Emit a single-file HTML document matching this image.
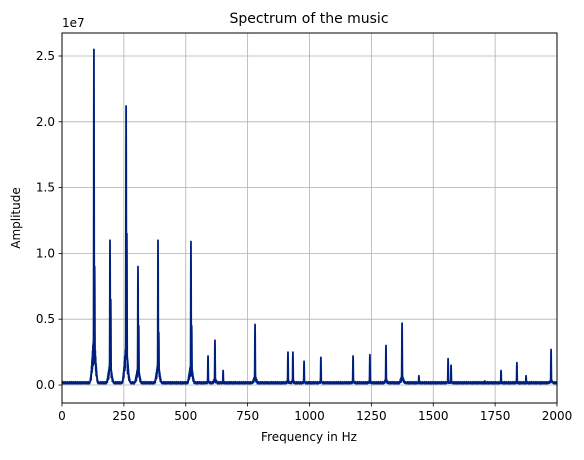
<!DOCTYPE html>
<html><head><meta charset="utf-8"><style>
body{margin:0;background:#fff;font-family:"Liberation Sans","DejaVu Sans",sans-serif}
svg text{font-family:"DejaVu Sans","Liberation Sans",sans-serif;font-size:12px;fill:#000}
</style></head><body>
<svg id="c" width="584" height="455">
<defs><clipPath id="clip"><rect x="62" y="33" width="495" height="370"/></clipPath></defs>
<rect x="0" y="0" width="584" height="455" fill="#fff"/>
<g id="grid"></g>
<g id="series" clip-path="url(#clip)"></g>
<rect x="62" y="33" width="495" height="370" fill="none" stroke="#000" stroke-width="1"/>
<g id="ticks"></g>
<text x="309" y="23" text-anchor="middle" style="font-size:14px">Spectrum of the music</text>
<text x="309" y="441" text-anchor="middle">Frequency in Hz</text>
<text x="20" y="218" text-anchor="middle" transform="rotate(-90 20 218)">Amplitude</text>
<text x="62" y="27">1e7</text>
</svg>
<script>
const xTicks=[0,250,500,750,1000,1250,1500,1750,2000];
const yTicks=[0,0.5,1.0,1.5,2.0,2.5];
const yTickLabels=["0.0","0.5","1.0","1.5","2.0","2.5"];
const peakFreqs=[129,132,194,197,259,262,307,310,388,391,521,524,590,618,651,780,913,933,978,1046,1176,1244,1309,1374,1442,1560,1572,1709,1774,1838,1875,1976];
const peakAmps=[2.55,0.9,1.1,0.65,2.12,1.15,0.9,0.45,1.1,0.4,1.09,0.45,0.22,0.34,0.11,0.46,0.25,0.25,0.18,0.21,0.22,0.23,0.3,0.47,0.07,0.2,0.15,0.03,0.11,0.17,0.07,0.27];
const X0=62,X1=557,Y0=33,Y1=403;
const xs=f=>X0+(f/2000)*(X1-X0);
const ys=v=>385-v*131.6;
const NS="http://www.w3.org/2000/svg";
const grid=document.getElementById('grid'),ticks=document.getElementById('ticks'),ser=document.getElementById('series');
function mk(tag,attrs,parent){const e=document.createElementNS(NS,tag);for(const k in attrs)e.setAttribute(k,attrs[k]);parent.appendChild(e);return e;}
xTicks.forEach(t=>{const x=xs(t);
const g=mk('line',{x1:x,x2:x,y1:Y0,y2:Y1,stroke:'#b0b0b0','stroke-width':0.8},grid);


mk('line',{x1:x,x2:x,y1:Y1,y2:Y1+3.5,stroke:'#000','stroke-width':0.8},ticks);
const tx=mk('text',{x:x,y:Y1+17,'text-anchor':'middle'},ticks);tx.textContent=t;

});
yTicks.forEach((t,i)=>{const y=ys(t);
const g=mk('line',{x1:X0,x2:X1,y1:y,y2:y,stroke:'#b0b0b0','stroke-width':0.8},grid);


mk('line',{x1:X0-3.5,x2:X0,y1:y,y2:y,stroke:'#000','stroke-width':0.8},ticks);
const tx=mk('text',{x:X0-7,y:y+4,'text-anchor':'end'},ticks);tx.textContent=yTickLabels[i];

});
let d='';
for(let f=0;f<=2000;f+=0.5){
 let v=0.01+0.015*Math.abs(Math.sin(f*1.7)*Math.sin(f*0.37));
 for(let i=0;i<peakFreqs.length;i++){const dx=f-peakFreqs[i];
  const s=peakAmps[i]*Math.exp(-dx*dx/(2*0.8*0.8));
  const b=peakAmps[i]*0.14*Math.exp(-dx*dx/(2*7*7))*(0.4+0.6*Math.abs(Math.sin(f*2.3)));
  v=Math.max(v,s,b);}
 d+=(d?'L':'M')+xs(f).toFixed(2)+','+ys(v).toFixed(2);}
const p=mk('path',{d:d,fill:'none',stroke:'#00207f','stroke-width':1.8,'stroke-linejoin':'round'},ser);


</script>
</body></html>
